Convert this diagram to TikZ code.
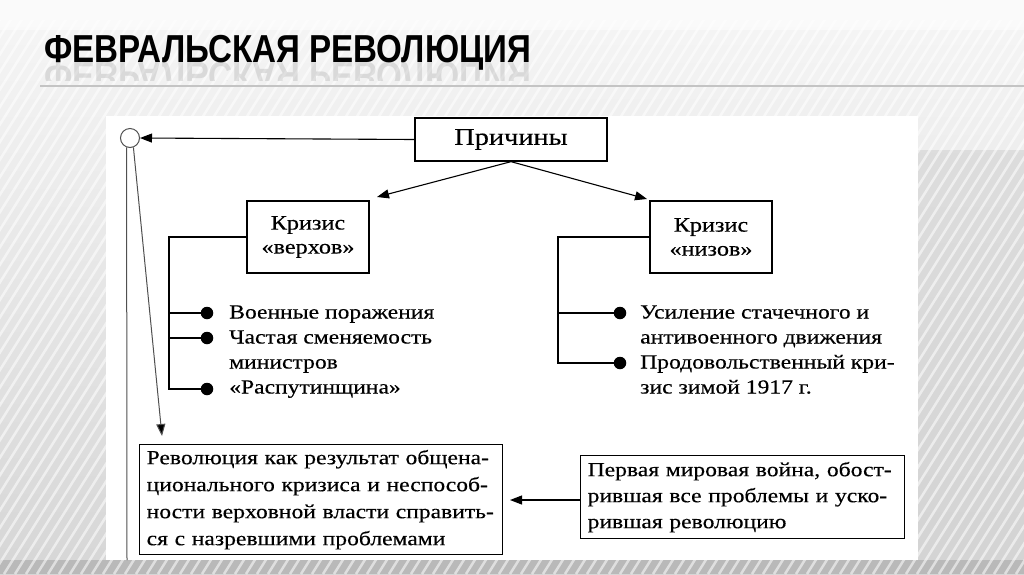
\documentclass[tikz,border=0pt]{standalone}
\usepackage{fontspec}
\setmainfont{Liberation Serif}[FakeStretch=1.18, FakeBold=0.3]
\newfontfamily\titlefont{Liberation Sans}[FakeStretch=0.85]
\usetikzlibrary{arrows.meta}
\definecolor{bgA}{HTML}{F6F6F6}
\definecolor{bgB}{HTML}{D6D6D6}
\definecolor{rule}{HTML}{C4C4C4}
\definecolor{wireg}{HTML}{505050}
\begin{document}
\begin{tikzpicture}[x=1pt,y=-1pt,
  box/.style={draw, line width=1.3pt, fill=white, inner sep=0pt, align=center},
  txt/.style={inner sep=0pt, text height=0.7em, text depth=0.2em, anchor=west, font=\fontsize{20}{20}\selectfont},
  wire/.style={line width=1.1pt},
  arr/.style={wire, -{Triangle[length=12pt,width=9pt]}},
  bulletdot/.style={shape=circle, fill=black, minimum size=12.5pt, inner sep=0pt},
  stripe/.style={white, line width=2.5pt, opacity=0.55}]
\useasboundingbox (0,0) rectangle (1024,574);
% background
\fill[top color=bgA, bottom color=bgB] (0,0) rectangle (1024,574);
\fill[gray!35, opacity=0.6] (918,150) rectangle (1024,574);
\fill[gray!55] (0,560) rectangle (1024,574);
\begin{scope}
  \clip (0,20) rectangle (1024,574);
  \foreach \i in {-700,-689,...,1100} \draw[stripe] (\i,574) -- (\i+360,0);
\end{scope}
\fill[white, opacity=0.5] (0,0) rectangle (1024,30);
\draw[rule, line width=1.5pt] (40,86) -- (1024,86);
% title
\node[anchor=base west, inner sep=0pt, font=\titlefont\bfseries\fontsize{39}{39}\selectfont] (title) at (44,62) {ФЕВРАЛЬСКАЯ РЕВОЛЮЦИЯ};
\begin{scope}
  \clip (40,62) rectangle (560,80);
  \node[anchor=base west, inner sep=0pt, yscale=-1, transform shape, opacity=0.1, font=\titlefont\bfseries\fontsize{39}{39}\selectfont] (refl) at (44,62) {ФЕВРАЛЬСКАЯ РЕВОЛЮЦИЯ};
\end{scope}
% panel
\fill[white] (106,116) rectangle (918,560);
% boxes
\node[box, minimum width=192pt, minimum height=43pt, font=\fontsize{24}{24}\selectfont] (pr) at (511,139.5) {Причины};
\node[box, minimum width=122pt, minimum height=72pt, font=\fontsize{20.5}{24}\selectfont] (kv) at (308,237) {Кризис\\«верхов»};
\node[box, minimum width=122pt, minimum height=72pt, font=\fontsize{20.5}{24}\selectfont] (kn) at (711,237) {Кризис\\«низов»};
\node[box, minimum width=363pt, minimum height=110pt, align=left, inner xsep=7pt, anchor=north west, text width=349pt, font=\fontsize{20}{27}\selectfont] (res) at (139,444) {Революция как результат общена-\\ционального кризиса и неспособ-\\ности верховной власти справить-\\ся с назревшими проблемами};
\node[box, minimum width=324pt, minimum height=83pt, align=left, inner xsep=7pt, anchor=north west, text width=310pt, font=\fontsize{20}{26}\selectfont] (war) at (580,455) {Первая мировая война, обост-\\рившая все проблемы и уско-\\рившая революцию};
% circle and its lines
\node[circle, draw=wireg, line width=1pt, fill=white, minimum size=19pt, inner sep=0pt] (circ) at (130,138) {};
\coordinate (vbot) at (127,560);
\coordinate (slant) at (162,436);
\draw[wireg, line width=1pt] (circ.-110) -- (vbot);
\draw[wireg, line width=1pt, -{Triangle[length=12pt,width=9pt,fill=black]}] (circ.-70) -- (slant);
% arrows
\coordinate (kvtip) at (377,197);
\coordinate (kntip) at (647,199);
\draw[arr] (pr.west) -- (circ.east);
\draw[arr] (pr.south) -- (kvtip);
\draw[arr] (pr.south) -- (kntip);
\coordinate (restip) at (510,500);
\draw[arr] (war.west |- restip) -- (restip);
% left list
\node[bulletdot] (l1) at (207,313) {};
\node[bulletdot] (l2) at (207,338) {};
\node[bulletdot] (l3) at (207,389) {};
\coordinate (lb) at (169,389);
\draw[wire] (kv.west) -| (lb) -- (l3);
\draw[wire] (lb |- l1) -- (l1);
\draw[wire] (lb |- l2) -- (l2);
\node[txt] (t1) at (229,316) {Военные поражения};
\node[txt] (t2) at (229,341) {Частая сменяемость};
\node[txt] (t3) at (229,366) {министров};
\node[txt] (t4) at (229,391) {«Распутинщина»};
% right list
\node[bulletdot] (r1) at (620,313) {};
\node[bulletdot] (r2) at (620,363) {};
\coordinate (rb) at (558,363);
\draw[wire] (kn.west) -| (rb) -- (r2);
\draw[wire] (rb |- r1) -- (r1);
\node[txt] (s1) at (640,316) {Усиление стачечного и};
\node[txt] (s2) at (640,341) {антивоенного движения};
\node[txt] (s3) at (640,366) {Продовольственный кри-};
\node[txt] (s4) at (640,391) {зис зимой 1917 г.};
\end{tikzpicture}
\end{document}
